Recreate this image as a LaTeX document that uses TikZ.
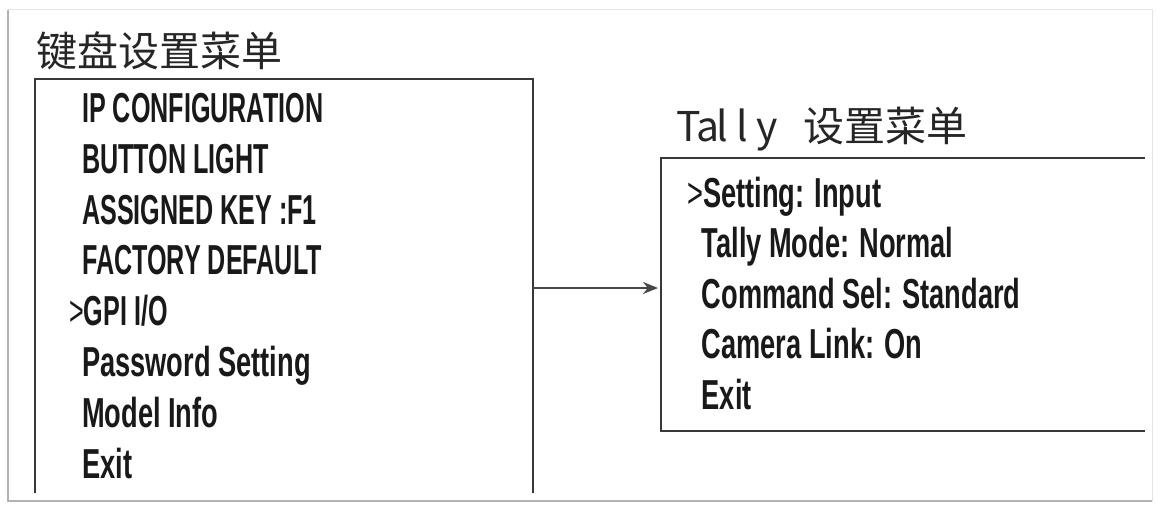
\documentclass[tikz,border=0pt]{standalone}
\usepackage{fontspec}
\usetikzlibrary{arrows.meta}
\setmainfont{Liberation Sans}
\newfontfamily\capsfont{Liberation Sans}[FakeStretch=0.60]
\newfontfamily\mixfont{Liberation Sans}[FakeStretch=0.65]
\newfontfamily\cjk{Noto Sans CJK SC}
\newcommand{\selmark}{{\mdseries >}}
\begin{document}
\begin{tikzpicture}[x=1pt,y=-1pt,
  capsitem/.style={anchor=base west, inner sep=0pt, text=black!90,
    font={\capsfont\bfseries\fontsize{41.9pt}{44pt}\selectfont}},
  mixitem/.style={anchor=base west, inner sep=0pt, text=black!90,
    font={\mixfont\bfseries\fontsize{41.9pt}{44pt}\selectfont}},
  titletext/.style={anchor=base west, inner sep=0pt, text=black!85,
    font={\cjk\fontsize{41pt}{41pt}\selectfont}},
  menuframe/.style={draw=black!78, line width=1.8pt},
  link/.style={draw=black!72, line width=2pt, -{Stealth[length=15pt,width=12pt]}}]
\fill[white] (0,0) rectangle (1158,508);
\useasboundingbox (0,0) rectangle (1158,508);
% outer photo frame
\draw[black!10, line width=1pt] (8,10) rectangle (1152,501);
\draw[black!30, line width=1.5pt] (8,10) -- (8,501) -- (1152,501);
% titles
\node[titletext] (title1) at (36,67) {键盘设置菜单};
\node[titletext] (title2) at (676,141) {\makebox[20pt][l]{T}\makebox[20pt][l]{a}\makebox[20pt][l]{l}\makebox[20pt][l]{l}\makebox[20pt][l]{y}\hspace{27pt}设置菜单};
% left menu box (open bottom)
\coordinate (lbBL) at (35,493);
\coordinate (lbTL) at (35,79);
\coordinate (lbTR) at (533,79);
\coordinate (lbBR) at (533,493);
\draw[menuframe] (lbBL) -- (lbTL) -- (lbTR) -- (lbBR);
% right menu box (open right side)
\coordinate (rbTR) at (1145,158);
\coordinate (rbTL) at (661,158);
\coordinate (rbBL) at (661,431);
\coordinate (rbBR) at (1145,431);
\draw[menuframe] (rbTR) -- (rbTL) -- (rbBL) -- (rbBR);
% left items
\node[capsitem] (l1) at (82,122.5) {IP CONFIGURATION};
\node[capsitem] (l2) at (82,173.3) {BUTTON LIGHT};
\node[capsitem] (l3) at (82,224.1) {ASSIGNED KEY :F1};
\node[capsitem] (l4) at (82,274.9) {FACTORY DEFAULT};
\node[capsitem] (l5) at (69,325.7) {\selmark GPI I/O};
\node[mixitem] (l6) at (82,376.5) {Password Setting};
\node[mixitem] (l7) at (82,427.3) {Model Info};
\node[mixitem] (l8) at (82,478.1) {Exit};
% right items
\node[mixitem] (r1) at (687,207) {\selmark Setting: Input};
\node[mixitem] (r2) at (701.5,257.5) {Tally Mode: Normal};
\node[mixitem] (r3) at (701.5,308) {Command Sel: Standard};
\node[mixitem] (r4) at (701.5,358.5) {Camera Link: On};
\node[mixitem] (r5) at (701.5,409) {Exit};
% connector
\coordinate (arrS) at (533,288);
\coordinate (arrE) at (658,288);
\draw[link] (arrS) -- (arrE);
\end{tikzpicture}
\end{document}
